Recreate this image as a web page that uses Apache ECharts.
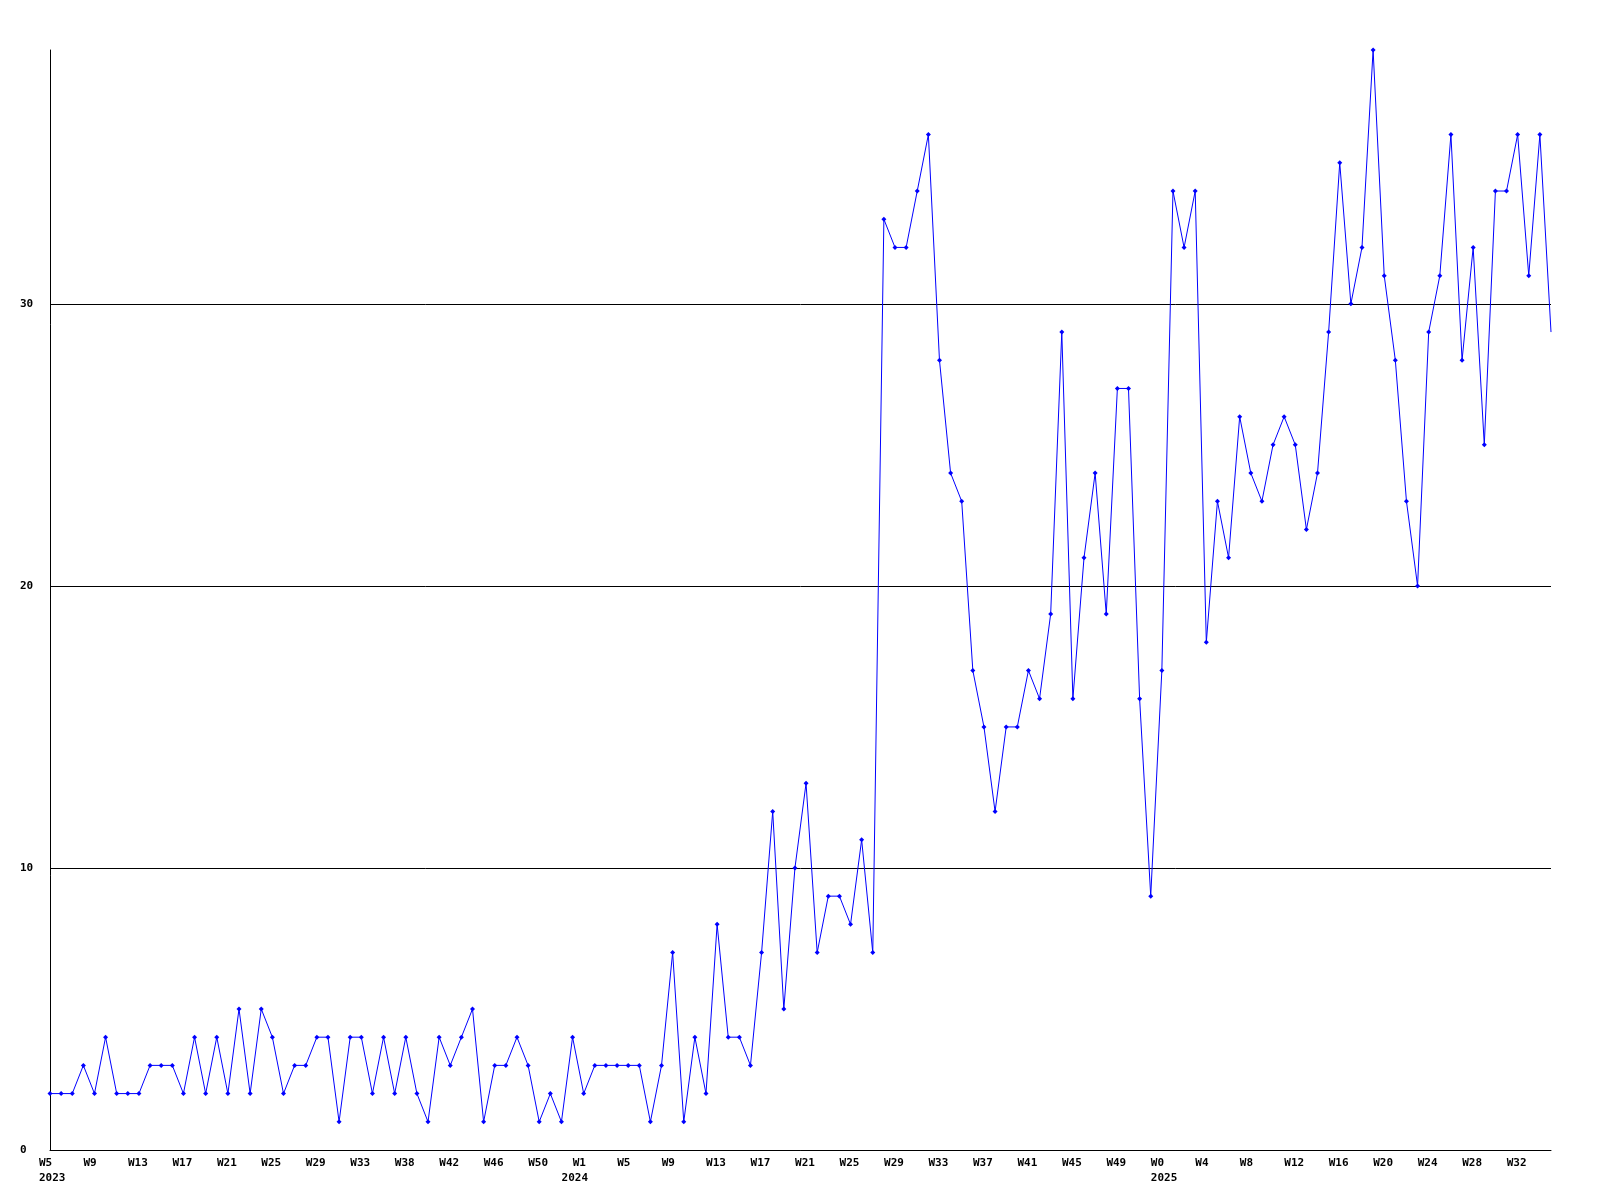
<!DOCTYPE html>
<html>
<head>
<meta charset="utf-8">
<script src="https://cdn.jsdelivr.net/npm/echarts@6/dist/echarts.min.js"></script>
<style>
  html, body { margin: 0; padding: 0; background: #ffffff; }
  #chart { width: 1600px; height: 1200px; }
</style>
</head>
<body>
<div id="chart"></div>
<script>
// Weekly values, from W5 2023 to W35 2025
const values2023 = [2,2,2,3,2,4,2,2,2,3,3,3,2,4,2,4,2,5,2,5,4,2,3,3,4,4,1,4,4,2,4,2,4,2,1,4,3,4,5,1,3,3,4,3,1,2,1,4];
const values2024 = [2,3,3,3,3,3,1,3,7,1,4,2,8,4,4,3,7,12,5,10,13,7,9,9,8,11,7,33,32,32,34,36,28,24,23,17,15,12,15,15,17,16,19,29,16,21,24,19,27,27,16,9];
const values2025 = [17,34,32,34,18,23,21,26,24,23,25,26,25,22,24,29,35,30,32,39,31,28,23,20,29,31,36,28,32,25,34,34,36,31,36,29];

// Tick labels shown every 4th week
const tickLabels = ['W5','W9','W13','W17','W21','W25','W29','W33','W38','W42','W46','W50',
  'W1','W5','W9','W13','W17','W21','W25','W29','W33','W37','W41','W45','W49',
  'W0','W4','W8','W12','W16','W20','W24','W28','W32'];
// Year labels and the week index where each one starts
const yearNames = ['2023', '2024', '2025'];
const yearIndex = [0, 47, 100];

const yTicks = [0, 10, 20, 30];
const yMax = 39;

const values = values2023.concat(values2024, values2025);
const categories = values.map((v, i) => String(i));

const labelFont = {
  fontFamily: 'DejaVu Sans Mono',
  fontWeight: 'bold',
  fontSize: 11,
  color: '#000'
};

const chart = echarts.init(document.getElementById('chart'), null, { renderer: 'canvas' });
chart.setOption({
  animation: false,
  backgroundColor: '#ffffff',
  grid: { left: 50, right: 49, top: 50, bottom: 50, containLabel: false },
  xAxis: [{
    type: 'category',
    data: categories,
    boundaryGap: false,
    axisLine: { show: true, lineStyle: { color: '#000', width: 1 } },
    axisTick: { show: false },
    splitLine: { show: false },
    axisLabel: Object.assign({
      interval: 3,
      align: 'left',
      margin: 8,
      padding: [0, 0, 0, -11],
      formatter: function (val, idx) {
        const t = idx / 4;
        if (idx % 4 !== 0 || t >= tickLabels.length) return '';
        return tickLabels[t];
      }
    }, labelFont)
  }, {
    type: 'category',
    data: categories,
    boundaryGap: false,
    position: 'bottom',
    axisLine: { show: false },
    axisTick: { show: false },
    splitLine: { show: false },
    axisLabel: Object.assign({
      interval: function (idx) { return yearIndex.indexOf(idx) >= 0; },
      align: 'left',
      margin: 23,
      padding: [0, 0, 0, -11],
      formatter: function (val, idx) {
        const yi = yearIndex.indexOf(idx);
        return yi >= 0 ? yearNames[yi] : '';
      }
    }, labelFont)
  }],
  yAxis: {
    type: 'value',
    min: 0,
    max: yMax,
    interval: 10,
    axisLine: { show: true, lineStyle: { color: '#000', width: 1 } },
    axisTick: { show: false },
    splitLine: { show: true, lineStyle: { color: ['#000', '#000', '#000', '#000', 'rgba(0,0,0,0)'], width: 1 } },
    axisLabel: Object.assign({
      align: 'left',
      margin: 30,
      showMaxLabel: false,
      formatter: function (v) { return yTicks.indexOf(v) >= 0 ? String(v) : ''; }
    }, labelFont)
  },
  series: [{
    type: 'line',
    xAxisIndex: 0,
    data: values,
    symbol: 'diamond',
    symbolSize: function (v, p) { return p.dataIndex === values.length - 1 ? 0 : 5; },
    showAllSymbol: true,
    lineStyle: { color: '#0000ff', width: 1 },
    itemStyle: { color: '#0000ff' },
    clip: true
  }]
});
</script>
</body>
</html>
